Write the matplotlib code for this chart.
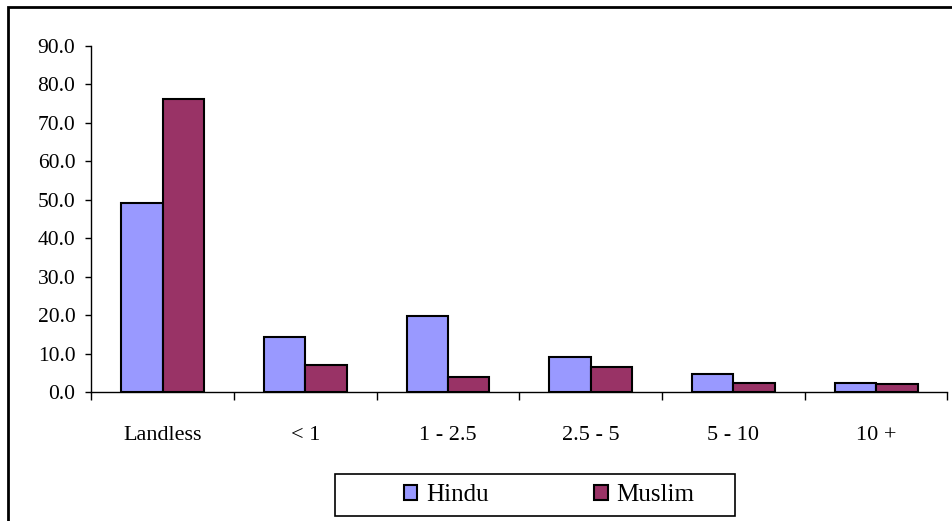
import numpy as np
import matplotlib
matplotlib.use("Agg")
import matplotlib.pyplot as plt
from matplotlib.patches import Rectangle
from matplotlib.ticker import FixedLocator, NullFormatter

categories = ["Landless", "< 1", "1 - 2.5", "2.5 - 5", "5 - 10", "10 +"]
hindu = [49.3, 14.5, 19.7, 9.3, 4.7, 2.5]
muslim = [76.3, 7.2, 4.1, 6.7, 2.5, 2.1]
y_ticks = [0, 10, 20, 30, 40, 50, 60, 70, 80, 90]

W, H = 953, 521
fig = plt.figure(figsize=(W / 100, H / 100), dpi=100)
plt.rcParams["font.family"] = ["Liberation Serif", "DejaVu Serif"]

# outer chart frame (runs off the right and bottom edges)
fig.patches.append(Rectangle((8.5 / W, -0.1), 1.2, 1 - 6.5 / H + 0.1,
                             transform=fig.transFigure, fill=False,
                             edgecolor="black", linewidth=2.0))

ax = fig.add_axes([91.3 / W, 1 - 392.3 / H, (947.5 - 91.3) / W, (392.3 - 46) / H])

x = np.arange(len(categories))
w = 0.29
ax.bar(x - w / 2, hindu, w, color="#9999FF", edgecolor="black", linewidth=1.5, label="Hindu")
ax.bar(x + w / 2, muslim, w, color="#993366", edgecolor="black", linewidth=1.5, label="Muslim")

ax.set_xlim(-0.5, len(categories) - 0.5)
ax.set_ylim(0, 90)

ax.spines["top"].set_visible(False)
ax.spines["right"].set_visible(False)
ax.spines["left"].set_linewidth(1.0)
ax.spines["bottom"].set_linewidth(1.0)

ax.set_yticks(y_ticks)
ax.set_yticklabels([f"{v:.1f}" for v in y_ticks], fontsize=15.5)
ax.tick_params(axis="y", direction="out", length=4.5, width=1.0, pad=7)

ax.set_xticks(x)
ax.set_xticklabels(categories, fontsize=16)
ax.tick_params(axis="x", which="major", length=0, pad=24)
ax.xaxis.set_minor_locator(FixedLocator(np.arange(-0.5, len(categories), 1.0)))
ax.xaxis.set_minor_formatter(NullFormatter())
ax.tick_params(axis="x", which="minor", direction="out", length=5.5, width=1.0)

# legend box
lx0, lx1, ly0, ly1 = 335, 735, 474.3, 516
fig.patches.append(Rectangle((lx0 / W, 1 - ly1 / H), (lx1 - lx0) / W, (ly1 - ly0) / H,
                             transform=fig.transFigure, fill=False,
                             edgecolor="black", linewidth=1.2))
handles, labels = ax.get_legend_handles_labels()
fig.legend(handles, labels, loc="center", bbox_to_anchor=(549 / W, 1 - 495 / H),
           ncol=2, frameon=False, fontsize=18, handlelength=0.55, handleheight=0.55,
           handletextpad=0.35, columnspacing=4.2, borderpad=0)

fig.savefig("out.png", dpi=100)
